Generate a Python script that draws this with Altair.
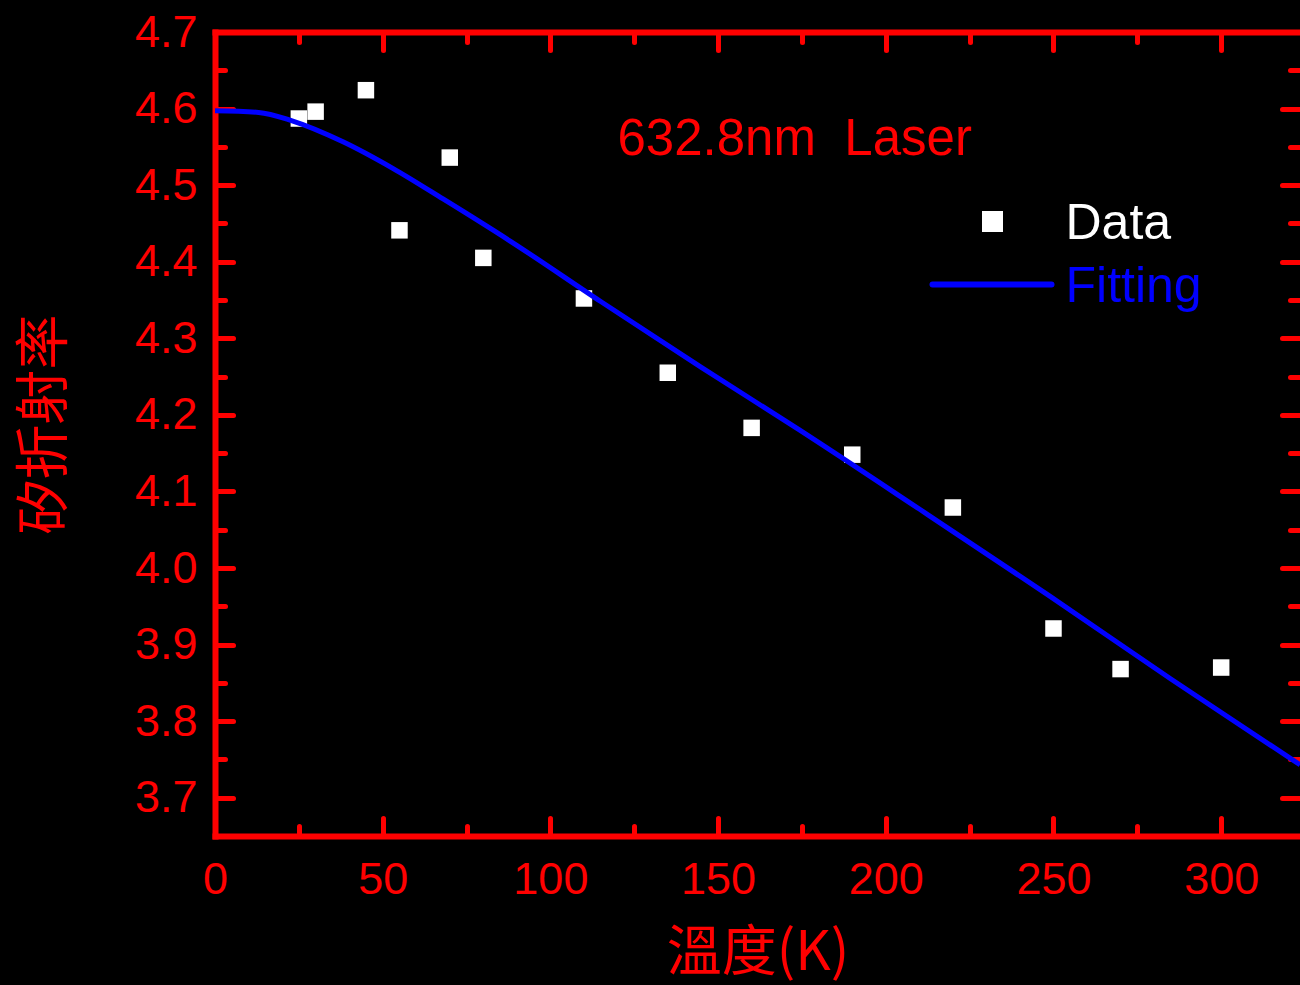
import altair as alt
import pandas as pd

# Measured refractive index of silicon vs temperature
temp_k = [25, 30, 45, 55, 70, 80, 110, 135, 160, 190, 220, 250, 270, 300]
n_data = [4.587, 4.596, 4.624, 4.441, 4.536, 4.405, 4.352, 4.255, 4.183,
          4.148, 4.079, 3.921, 3.868, 3.870]

# Fitted curve, sampled along its length
fit_t = [0, 13, 23, 38, 53, 68, 88, 115, 145, 174, 210, 249, 285, 323.5]
fit_n = [4.597, 4.595, 4.584, 4.557, 4.522, 4.482, 4.427, 4.348, 4.262,
         4.181, 4.077, 3.963, 3.855, 3.743]

# Axis ticks (major + minor) and labelled values
x_ticks = [0, 25, 50, 75, 100, 125, 150, 175, 200, 225, 250, 275, 300]
x_labels = [0, 50, 100, 150, 200, 250, 300]
y_ticks = [3.7, 3.75, 3.8, 3.85, 3.9, 3.95, 4.0, 4.05, 4.1, 4.15, 4.2,
           4.25, 4.3, 4.35, 4.4, 4.45, 4.5, 4.55, 4.6, 4.65, 4.7]
y_labels = [3.7, 3.8, 3.9, 4.0, 4.1, 4.2, 4.3, 4.4, 4.5, 4.6, 4.7]

x_title = "溫度(K)"
y_title = "矽折射率"
note_text = ["632.8nm\u00a0\u00a0Laser"]
legend_names = ["Data", "Fitting"]

W, H = 1085, 804
RED = "#ff0000"
BLUE = "#0000ff"
LATIN = "Liberation Sans"
CJK = "Noto Sans CJK TC"

xs = alt.Scale(domain=[0, 323.5], nice=False, zero=False)
ys = alt.Scale(domain=[3.65, 4.7], nice=False, zero=False)

X_MAJOR = "datum.value % 50 === 0"
Y_MAJOR = "round(datum.value * 100) % 10 === 0"


def tick_axis(orient, offset, values, major_test, domain=False):
    # inward-pointing ticks: the axis is moved to the opposite edge
    return alt.Axis(
        orient=orient, offset=offset, values=values, labels=False,
        title=None, grid=False, domain=domain, domainColor=RED,
        domainWidth=6, domainCap="square", ticks=True, tickColor=RED,
        tickWidth=5, tickCap="round",
        tickSize={"condition": {"test": major_test, "value": 18}, "value": 10},
    )


x_label_axis = alt.Axis(
    orient="bottom", values=x_labels, ticks=False, tickSize=0, grid=False,
    labelColor=RED, labelFont=LATIN, labelFontSize=45, labelPadding=21,
    labelFlush=False, labelOverlap=False,
    domain=True, domainColor=RED, domainWidth=6, domainCap="square",
    title=x_title, titleColor=RED, titleFont=CJK, titleFontSize=55,
    titleFontWeight="normal", titlePadding=24,
)
y_label_axis = alt.Axis(
    orient="left", values=y_labels, format=".1f", ticks=False, tickSize=0,
    grid=False, labelColor=RED, labelFont=LATIN, labelFontSize=45,
    labelPadding=18, labelOverlap=False,
    domain=True, domainColor=RED, domainWidth=6, domainCap="square",
    title=y_title, titleColor=RED, titleFont=CJK, titleFontSize=55,
    titleFontWeight="normal", titlePadding=61, titleY=392,
)

points = pd.DataFrame({"T": temp_k, "n": n_data})
fit = pd.DataFrame({"T": fit_t, "n": fit_n})

scatter = alt.Chart(points).mark_square(
    size=272, color="white", opacity=1, filled=True
).encode(
    x=alt.X("T:Q", scale=xs, axis=x_label_axis),
    y=alt.Y("n:Q", scale=ys, axis=y_label_axis),
)

curve = alt.Chart(fit).mark_line(
    color=BLUE, strokeWidth=5, interpolate="monotone", clip=True
).encode(
    x=alt.X("T:Q", scale=xs, axis=tick_axis("top", -H, x_ticks, X_MAJOR)),
    y=alt.Y("n:Q", scale=ys, axis=tick_axis("right", -W, y_ticks, Y_MAJOR)),
)

frame = alt.Chart(points).mark_point(opacity=0).encode(
    x=alt.X("T:Q", scale=xs,
            axis=tick_axis("bottom", -H, x_ticks, X_MAJOR, domain=True)),
    y=alt.Y("n:Q", scale=ys, axis=tick_axis("left", -W, y_ticks, Y_MAJOR)),
)

note = alt.Chart(pd.DataFrame({"label": note_text})).mark_text(
    align="left", baseline="alphabetic", font=LATIN, fontSize=51, color=RED
).encode(x=alt.value(402.5), y=alt.value(122.5), text="label:N")

legend_square = alt.Chart(pd.DataFrame({"k": [0]})).mark_square(
    size=441, color="white", opacity=1, filled=True
).encode(x=alt.value(777.5), y=alt.value(189.5))

legend_line = alt.Chart(pd.DataFrame({"k": [0]})).mark_rule(
    color=BLUE, strokeWidth=6, strokeCap="round"
).encode(x=alt.value(717.5), x2=alt.value(836.5), y=alt.value(252.5))

legend_text = alt.Chart(pd.DataFrame({
    "label": legend_names,
    "ypos": [206.5, 269.5],
    "col": ["white", BLUE],
})).mark_text(
    align="left", baseline="alphabetic", font=LATIN, fontSize=50
).encode(
    x=alt.value(850.5),
    y=alt.Y("ypos:Q", scale=None),
    text="label:N",
    color=alt.Color("col:N", scale=None),
)

chart = alt.layer(
    scatter, curve, frame, note, legend_square, legend_line, legend_text
).resolve_axis(
    x="independent", y="independent"
).properties(
    width=W, height=H,
    autosize=alt.AutoSizeParams(type="none"),
    padding={"left": 215, "top": 32, "right": 0, "bottom": 149},
    background="black",
).configure_view(strokeWidth=0)

chart.save("out.html", embed_options={"renderer": "svg", "actions": False})
